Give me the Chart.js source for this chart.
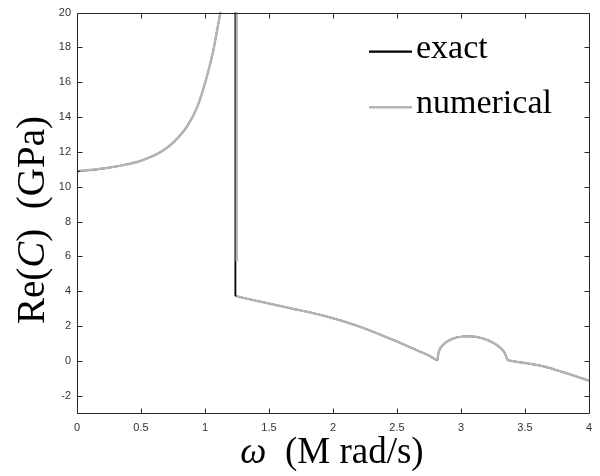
<!DOCTYPE html>
<html>
<head>
<meta charset="utf-8">
<script src="https://cdn.jsdelivr.net/npm/chart.js@4/dist/chart.umd.min.js"></script>
<style>
  html, body { margin: 0; padding: 0; background: #fff; }
  #wrap { width: 600px; height: 476px; }
</style>
</head>
<body>
<div id="wrap"><canvas id="c" width="600" height="476"></canvas></div>
<script>
// ---- tick labels ----
const xTickValues = [0, 0.5, 1, 1.5, 2, 2.5, 3, 3.5, 4];
const yTickValues = [-2, 0, 2, 4, 6, 8, 10, 12, 14, 16, 18, 20];

// ---- exact solution ----
const omegaExactLeft = [0, 0.1, 0.24, 0.4, 0.5, 0.66, 0.76, 0.866, 0.944, 1.009, 1.061, 1.10, 1.118, 1.14];
const reExactLeft    = [10.88, 10.95, 11.08, 11.3, 11.49, 12.02, 12.59, 13.53, 14.66, 16.18, 17.69, 19.2, 19.95, 21.5];
const omegaExactJump = [1.2375, 1.2375];
const reExactJump    = [21.5, 3.72];
const omegaExactRight = [1.2375, 1.412, 1.672, 1.932, 2.19, 2.45, 2.66, 2.75, 2.816,
                         2.822, 2.83, 2.868, 2.933, 3.01, 3.076, 3.167, 3.258, 3.31, 3.344, 3.355, 3.362,
                         3.375, 3.5, 3.66, 3.8, 4.0];
const reExactRight    = [3.72, 3.43, 3.01, 2.58, 2.01, 1.26, 0.59, 0.3, 0.04,
                         0.35, 0.59, 0.97, 1.26, 1.39, 1.40, 1.29, 1.01, 0.73, 0.42, 0.2, 0.06,
                         0.02, -0.13, -0.35, -0.66, -1.14];

// ---- numerical solution ----
const omegaNumLeft = [0.02, 0.1, 0.24, 0.4, 0.5, 0.66, 0.76, 0.866, 0.944, 1.009, 1.061, 1.10, 1.118, 1.14];
const reNumLeft    = [10.92, 10.96, 11.08, 11.3, 11.49, 12.02, 12.59, 13.53, 14.66, 16.18, 17.69, 19.2, 19.95, 21.5];
const omegaNumJump = [1.248, 1.248];
const reNumJump    = [21.5, 5.7];
const omegaNumRight = [1.245, 1.412, 1.672, 1.932, 2.19, 2.45, 2.66, 2.75, 2.816,
                       2.822, 2.83, 2.868, 2.933, 3.01, 3.076, 3.167, 3.258, 3.31, 3.344, 3.355, 3.362,
                       3.375, 3.5, 3.66, 3.8, 4.0];
const reNumRight    = [3.71, 3.43, 3.01, 2.58, 2.01, 1.26, 0.59, 0.3, 0.06,
                       0.35, 0.59, 0.97, 1.26, 1.39, 1.40, 1.29, 1.01, 0.73, 0.42, 0.2, 0.06,
                       0.02, -0.13, -0.35, -0.66, -1.14];

function pts(xs, ys) { return xs.map((x, i) => ({ x: x, y: ys[i] })); }
const gap = { x: NaN, y: null };

const AXIS = '#262626';
const SERIF = '"Liberation Serif", "Times New Roman", serif';
const GRAY = '#b4b4b4';

function curveSet(label, data, color, width, order, monotone) {
  return {
    label: label, data: data, showLine: true, borderColor: color, borderWidth: width,
    pointRadius: 0, spanGaps: false, order: order,
    cubicInterpolationMode: monotone ? 'monotone' : 'default', tension: 0
  };
}

const framePlugin = {
  id: 'frame',
  afterDraw(chart) {
    const ctx = chart.ctx;
    const a = chart.chartArea;
    const xs = chart.scales.x, ys = chart.scales.y;
    ctx.save();
    ctx.strokeStyle = AXIS;
    ctx.lineWidth = 1;
    const L = Math.round(a.left) + 0.5, R = Math.round(a.right) + 0.5;
    const T = Math.round(a.top) + 0.5, B = Math.round(a.bottom) + 0.5;
    ctx.beginPath();
    ctx.rect(L, T, R - L, B - T);
    ctx.stroke();
    const tl = 5;
    ctx.beginPath();
    xTickValues.forEach(v => {
      const px = Math.round(xs.getPixelForValue(v)) + 0.5;
      ctx.moveTo(px, B); ctx.lineTo(px, B - tl);
      ctx.moveTo(px, T); ctx.lineTo(px, T + tl);
    });
    yTickValues.forEach(v => {
      const py = Math.round(ys.getPixelForValue(v)) + 0.5;
      ctx.moveTo(L, py); ctx.lineTo(L + tl, py);
      ctx.moveTo(R, py); ctx.lineTo(R - tl, py);
    });
    ctx.stroke();

    // legend
    const legend = [
      { label: 'exact', color: '#000000', width: 2.2, y: 51.7, base: 57.5 },
      { label: 'numerical', color: GRAY, width: 2.4, y: 107.3, base: 113.3 }
    ];
    ctx.font = '34px ' + SERIF;
    ctx.textBaseline = 'alphabetic';
    ctx.textAlign = 'left';
    legend.forEach(it => {
      ctx.strokeStyle = it.color;
      ctx.lineWidth = it.width;
      ctx.beginPath();
      ctx.moveTo(369, it.y); ctx.lineTo(412, it.y);
      ctx.stroke();
      ctx.fillStyle = '#000';
      ctx.fillText(it.label, 416, it.base);
    });

    // axis titles
    function drawParts(parts, cx, baseY, size) {
      let total = 0;
      parts.forEach(p => { ctx.font = (p.it ? 'italic ' : '') + size + 'px ' + SERIF; p.w = ctx.measureText(p.t).width; total += p.w; });
      let x = cx - total / 2;
      parts.forEach(p => {
        ctx.font = (p.it ? 'italic ' : '') + size + 'px ' + SERIF;
        ctx.fillText(p.t, x, baseY);
        x += p.w;
      });
    }
    ctx.fillStyle = '#000';
    drawParts([{ t: 'ω', it: true }, { t: '  ' }, { t: '(M rad/s)' }], 332, 463, 37);
    ctx.save();
    ctx.translate(44, 220);
    ctx.rotate(-Math.PI / 2);
    drawParts([{ t: 'Re(' }, { t: 'C', it: true }, { t: ')' }, { t: '  ' }, { t: '(GPa)' }], 0, 0, 39);
    ctx.restore();
    ctx.restore();
  }
};

const fmt = v => String(Number(v.toFixed(2)));
const tickFont = { family: '"Liberation Sans", Arial, sans-serif', size: 11 };

new Chart(document.getElementById('c'), {
  type: 'scatter',
  data: {
    datasets: [
      curveSet('numerical', pts(omegaNumLeft, reNumLeft), GRAY, 2.4, 0, true),
      curveSet('numerical', pts(omegaNumJump, reNumJump), GRAY, 2.4, 0, false),
      curveSet('numerical', pts(omegaNumRight, reNumRight), GRAY, 2.4, 0, true),
      curveSet('exact', pts(omegaExactLeft, reExactLeft), '#000000', 1.6, 1, true),
      curveSet('exact', pts(omegaExactJump, reExactJump), '#000000', 1.8, 1, false),
      curveSet('exact', pts(omegaExactRight, reExactRight), '#000000', 1.6, 1, true)
    ]
  },
  options: {
    responsive: false,
    devicePixelRatio: 1,
    animation: false,
    layout: { padding: { left: 0, right: 10, top: 7, bottom: 0 } },
    plugins: { legend: { display: false }, tooltip: { enabled: false } },
    scales: {
      x: {
        type: 'linear', min: 0, max: 4,
        afterBuildTicks: s => { s.ticks = xTickValues.map(v => ({ value: v })); },
        afterFit: s => { s.height = 63; },
        grid: { display: false, drawTicks: false },
        border: { display: false },
        ticks: { callback: v => fmt(v), padding: 8, color: '#333', font: tickFont, maxRotation: 0 }
      },
      y: {
        type: 'linear', min: -3, max: 20,
        afterBuildTicks: s => { s.ticks = yTickValues.map(v => ({ value: v })); },
        afterFit: s => { s.width = 77; },
        grid: { display: false, drawTicks: false },
        border: { display: false },
        ticks: { callback: v => fmt(v), padding: 6, color: '#333', font: tickFont }
      }
    }
  },
  plugins: [framePlugin]
});
</script>
</body>
</html>
